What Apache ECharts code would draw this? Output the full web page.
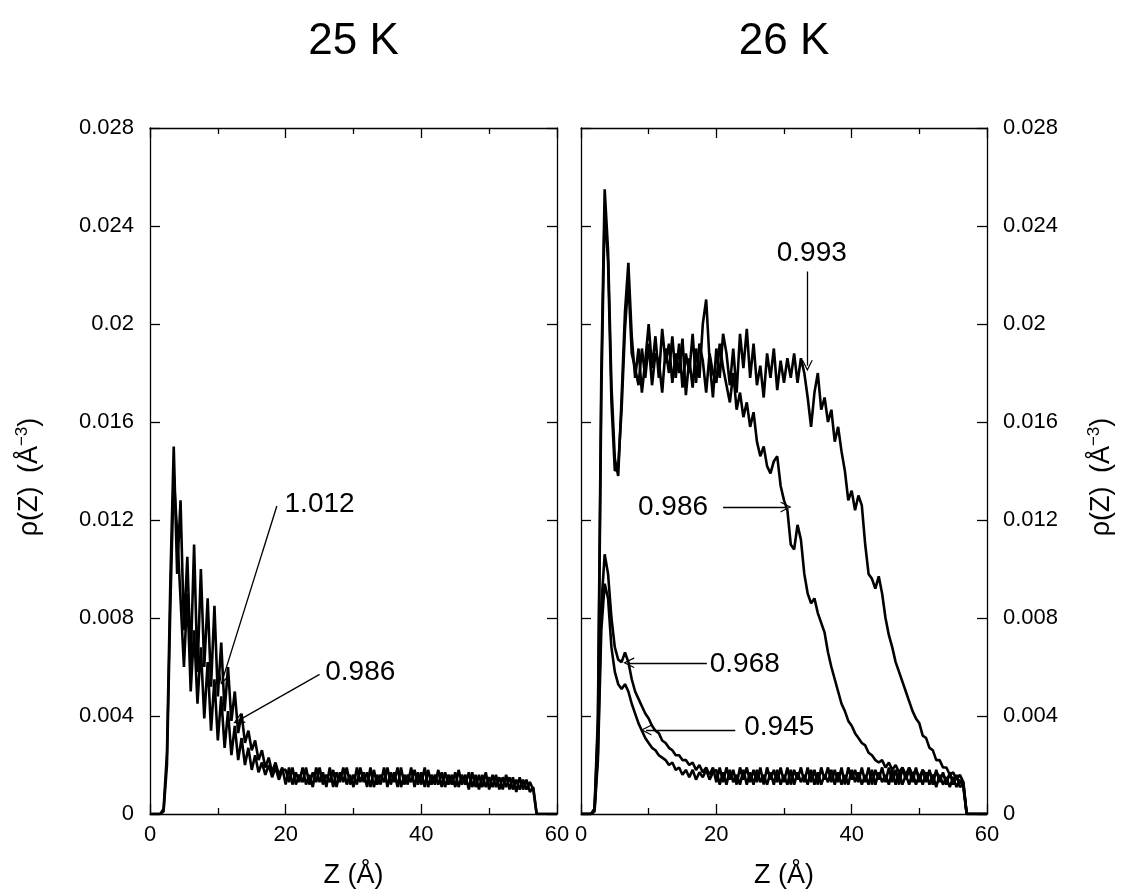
<!DOCTYPE html>
<html>
<head>
<meta charset="utf-8">
<script src="https://cdn.jsdelivr.net/npm/echarts@6/dist/echarts.min.js"></script>
<style>html,body{margin:0;padding:0;background:#fff;}#c{width:1123px;height:894px;}</style>
</head>
<body>
<div id="c"></div>
<script>
// Z grid (Å)
const zValues = [
 0,0.5,1,1.5,2,2.5,3,3.5,4,4.5,
 5,5.5,6,6.5,7,7.5,8,8.5,9,9.5,
 10,10.5,11,11.5,12,12.5,13,13.5,14,14.5,
 15,15.5,16,16.5,17,17.5,18,18.5,19,19.5,
 20,20.5,21,21.5,22,22.5,23,23.5,24,24.5,
 25,25.5,26,26.5,27,27.5,28,28.5,29,29.5,
 30,30.5,31,31.5,32,32.5,33,33.5,34,34.5,
 35,35.5,36,36.5,37,37.5,38,38.5,39,39.5,
 40,40.5,41,41.5,42,42.5,43,43.5,44,44.5,
 45,45.5,46,46.5,47,47.5,48,48.5,49,49.5,
 50,50.5,51,51.5,52,52.5,53,53.5,54,54.5,
 55,55.5,56,56.5,57,57.5,58,58.5,59,59.5,
 60];

// 25 K panel
const rho25_1012 = [
 0,0,0,0,0.0002,0.0025,0.0095,0.0150,0.0098,0.0128,
 0.0075,0.0105,0.0062,0.0110,0.0058,0.0100,0.0060,0.0088,0.0052,0.0085,
 0.0048,0.0070,0.0042,0.0060,0.0038,0.0050,0.0033,0.0041,0.0029,0.0034,
 0.0026,0.0030,0.0022,0.0026,0.0019,0.0023,0.0017,0.0021,0.0016,0.0019,
 0.0012,0.0019,0.0012,0.0017,0.0013,0.0019,0.0012,0.0016,0.0011,0.0019,
 0.0013,0.0017,0.0011,0.0019,0.0011,0.0017,0.0013,0.0019,0.0012,0.0016,
 0.0011,0.0019,0.0013,0.0017,0.0011,0.0019,0.0011,0.0016,0.0012,0.0019,
 0.0011,0.0017,0.0013,0.0019,0.0011,0.0016,0.0012,0.0019,0.0011,0.0017,
 0.0012,0.0019,0.0011,0.0016,0.0012,0.0018,0.0011,0.0017,0.0012,0.0016,
 0.0011,0.0018,0.0012,0.0016,0.0010,0.0017,0.0011,0.0016,0.0011,0.0017,
 0.0010,0.0016,0.0011,0.0015,0.0010,0.0016,0.0010,0.0015,0.0009,0.0015,
 0.0010,0.0014,0.0009,0.0011,0,0,0,0,0,0,
 0];
const rho25_0986 = [
 0,0,0,0,0.0001,0.0020,0.0085,0.0138,0.0115,0.0088,
 0.0060,0.0090,0.0050,0.0075,0.0045,0.0068,0.0039,0.0062,0.0034,0.0055,
 0.0030,0.0048,0.0027,0.0042,0.0024,0.0036,0.0022,0.0031,0.0020,0.0027,
 0.0018,0.0024,0.0017,0.0021,0.0016,0.0020,0.0015,0.0019,0.0014,0.0018,
 0.0018,0.0013,0.0019,0.0012,0.0016,0.0013,0.0019,0.0012,0.0017,0.0013,
 0.0019,0.0012,0.0016,0.0013,0.0018,0.0011,0.0017,0.0013,0.0019,0.0012,
 0.0016,0.0012,0.0019,0.0013,0.0017,0.0011,0.0018,0.0012,0.0016,0.0013,
 0.0019,0.0012,0.0017,0.0011,0.0019,0.0012,0.0016,0.0013,0.0018,0.0012,
 0.0017,0.0011,0.0018,0.0012,0.0016,0.0012,0.0017,0.0011,0.0016,0.0012,
 0.0017,0.0011,0.0016,0.0012,0.0017,0.0011,0.0016,0.0010,0.0016,0.0011,
 0.0015,0.0011,0.0016,0.0010,0.0015,0.0011,0.0015,0.0010,0.0014,0.0010,
 0.0014,0.0010,0.0013,0.0010,0,0,0,0,0,0,
 0];

// 26 K panel
const rho26_0993 = [
 0,0,0,0,0.0002,0.0040,0.0180,0.0255,0.0230,0.0175,
 0.0145,0.0138,0.0170,0.0205,0.0225,0.0195,0.0178,0.0190,0.0172,0.0185,
 0.0200,0.0182,0.0195,0.0178,0.0198,0.0184,0.0192,0.0176,0.0188,0.0180,
 0.0194,0.0171,0.0186,0.0174,0.0190,0.0178,0.0200,0.0210,0.0185,0.0170,
 0.0190,0.0178,0.0196,0.0188,0.0175,0.0190,0.0172,0.0196,0.0182,0.0198,
 0.0178,0.0192,0.0175,0.0183,0.0170,0.0188,0.0178,0.0190,0.0173,0.0185,
 0.0176,0.0186,0.0178,0.0188,0.0176,0.0186,0.0180,0.0170,0.0158,0.0172,
 0.0180,0.0165,0.0170,0.0160,0.0165,0.0152,0.0158,0.0148,0.0140,0.0128,
 0.0132,0.0124,0.0130,0.0126,0.0110,0.0098,0.0096,0.0092,0.0097,0.0090,
 0.0080,0.0073,0.0068,0.0062,0.0058,0.0054,0.0050,0.0046,0.0042,0.0039,
 0.0037,0.0032,0.0031,0.0027,0.0026,0.0022,0.0022,0.0019,0.0019,0.0016,
 0.0017,0.0014,0.0016,0.0013,0,0,0,0,0,0,
 0];
const rho26_0986 = [
 0,0,0,0,0.0002,0.0035,0.0170,0.0248,0.0225,0.0168,
 0.0140,0.0142,0.0165,0.0198,0.0218,0.0188,0.0182,0.0175,0.0190,0.0178,
 0.0192,0.0175,0.0188,0.0185,0.0172,0.0190,0.0180,0.0195,0.0178,0.0192,
 0.0174,0.0188,0.0180,0.0196,0.0176,0.0192,0.0185,0.0172,0.0188,0.0180,
 0.0176,0.0192,0.0182,0.0175,0.0168,0.0180,0.0165,0.0172,0.0162,0.0168,
 0.0158,0.0164,0.0152,0.0146,0.0150,0.0142,0.0139,0.0144,0.0146,0.0134,
 0.0128,0.0124,0.0110,0.0108,0.0118,0.0112,0.0098,0.0090,0.0086,0.0088,
 0.0082,0.0078,0.0074,0.0066,0.0060,0.0055,0.0050,0.0045,0.0042,0.0038,
 0.0036,0.0033,0.0031,0.0029,0.0028,0.0025,0.0024,0.0022,0.0021,0.0022,
 0.0019,0.0021,0.0018,0.0020,0.0017,0.0019,0.0016,0.0019,0.0016,0.0018,
 0.0015,0.0018,0.0016,0.0017,0.0015,0.0017,0.0015,0.0016,0.0014,0.0016,
 0.0014,0.0015,0.0013,0.0013,0,0,0,0,0,0,
 0];
const rho26_0968 = [
 0,0,0,0,0.0002,0.0025,0.0085,0.0106,0.0098,0.0080,
 0.0068,0.0063,0.0062,0.0066,0.0062,0.0055,0.0050,0.0047,0.0044,0.0041,
 0.0039,0.0036,0.0034,0.0033,0.0030,0.0029,0.0027,0.0026,0.0024,0.0024,
 0.0022,0.0022,0.0020,0.0021,0.0018,0.0020,0.0017,0.0019,0.0016,0.0019,
 0.0013,0.0019,0.0013,0.0019,0.0014,0.0018,0.0012,0.0019,0.0014,0.0019,
 0.0013,0.0018,0.0013,0.0019,0.0012,0.0019,0.0014,0.0018,0.0013,0.0019,
 0.0013,0.0019,0.0012,0.0018,0.0014,0.0019,0.0013,0.0019,0.0013,0.0018,
 0.0012,0.0019,0.0014,0.0019,0.0013,0.0018,0.0013,0.0019,0.0012,0.0019,
 0.0014,0.0018,0.0013,0.0019,0.0013,0.0019,0.0012,0.0018,0.0014,0.0019,
 0.0013,0.0019,0.0013,0.0018,0.0012,0.0019,0.0014,0.0018,0.0013,0.0019,
 0.0013,0.0018,0.0013,0.0018,0.0012,0.0018,0.0013,0.0017,0.0012,0.0017,
 0.0012,0.0016,0.0011,0.0012,0,0,0,0,0,0,
 0];
const rho26_0945 = [
 0,0,0,0,0.0001,0.0022,0.0075,0.0094,0.0088,0.0068,
 0.0058,0.0053,0.0051,0.0053,0.0050,0.0045,0.0041,0.0037,0.0034,0.0031,
 0.0029,0.0027,0.0026,0.0024,0.0023,0.0022,0.0020,0.0021,0.0018,0.0019,
 0.0016,0.0018,0.0015,0.0018,0.0014,0.0017,0.0015,0.0018,0.0014,0.0017,
 0.0018,0.0012,0.0017,0.0012,0.0018,0.0013,0.0016,0.0012,0.0018,0.0012,
 0.0017,0.0012,0.0018,0.0013,0.0016,0.0012,0.0017,0.0012,0.0018,0.0012,
 0.0016,0.0012,0.0018,0.0012,0.0017,0.0013,0.0016,0.0012,0.0018,0.0012,
 0.0017,0.0012,0.0016,0.0013,0.0018,0.0012,0.0017,0.0012,0.0016,0.0012,
 0.0018,0.0013,0.0017,0.0012,0.0016,0.0012,0.0018,0.0012,0.0017,0.0013,
 0.0016,0.0012,0.0018,0.0012,0.0017,0.0012,0.0016,0.0012,0.0017,0.0012,
 0.0016,0.0012,0.0017,0.0012,0.0016,0.0011,0.0016,0.0012,0.0015,0.0011,
 0.0015,0.0011,0.0014,0.0011,0,0,0,0,0,0,
 0];

// axis ticks
const xTicks = { min: 0, max: 60, interval: 20 };
const yTicks = { min: 0, max: 0.028, interval: 0.004 };

// annotations: [label, labelZ, labelRho, lineStartZ, lineStartRho, lineEndZ, lineEndRho]
const notes25 = [
 ['1.012', 25.0, 0.01266, 18.7, 0.01257, 10.7, 0.00549],
 ['0.986', 31.0, 0.00578, 25.0, 0.00570, 13.0, 0.00381]
];
const notes26 = [
 ['0.993', 34.1, 0.02287, 33.45, 0.02214, 33.45, 0.01830],
 ['0.986', 13.6, 0.01253, 21.0, 0.01253, 30.3, 0.01253],
 ['0.968', 24.2, 0.00610, 18.6, 0.00617, 7.05, 0.00617],
 ['0.945', 29.3, 0.00353, 22.8, 0.00343, 9.6, 0.00343]
];

const FONT = "'Liberation Sans', Arial, sans-serif";
const chart = echarts.init(document.getElementById('c'), null, { renderer: 'canvas' });

function xAxis(grid, pos, labels) {
  return {
    type: 'value', gridIndex: grid, position: pos, ...xTicks,
    axisLine: { show: true, onZero: false, lineStyle: { color: '#000', width: 1.3 } },
    axisTick: { show: true, inside: true, length: 10, lineStyle: { color: '#000', width: 1.3 } },
    minorTick: { show: true, splitNumber: 2, length: 6, lineStyle: { color: '#000', width: 1.3 } },
    splitLine: { show: false },
    axisLabel: { show: labels, color: '#000', fontSize: 22, fontFamily: FONT, margin: 10 },
    name: labels ? 'Z (Å)' : '', nameLocation: 'middle', nameGap: 48,
    nameTextStyle: { color: '#000', fontSize: 27, fontFamily: FONT }
  };
}
function yAxis(grid, pos, labels) {
  return {
    type: 'value', gridIndex: grid, position: pos, ...yTicks,
    axisLine: { show: true, onZero: false, lineStyle: { color: '#000', width: 1.3 } },
    axisTick: { show: true, inside: true, length: 10, lineStyle: { color: '#000', width: 1.3 } },
    splitLine: { show: false },
    axisLabel: { show: labels, color: '#000', fontSize: 22, fontFamily: FONT, margin: 16,
      formatter: v => v === 0 ? '0' : String(+v.toFixed(3)) }
  };
}

function curve(arr, xi, yi) {
  return { type: 'line', xAxisIndex: xi, yAxisIndex: yi, showSymbol: false, symbol: 'none',
    data: zValues.map((z, i) => [z, arr[i]]),
    lineStyle: { color: '#000', width: 2.6 }, animation: false, z: 3 };
}
const chevron = 'path://M5,0 L10,10 L8.8,10 L5,2.4 L1.2,10 L0,10 Z';
function noteLines(notes, xi, yi) {
  return { type: 'lines', coordinateSystem: 'cartesian2d', xAxisIndex: xi, yAxisIndex: yi,
    symbol: ['none', chevron], symbolSize: [11, 11],
    lineStyle: { color: '#000', width: 1.3, opacity: 1 }, animation: false, z: 5,
    data: notes.map(n => ({ coords: [[n[3], n[4]], [n[5], n[6]]] })) };
}
function noteText(notes, xi, yi) {
  return { type: 'scatter', xAxisIndex: xi, yAxisIndex: yi, symbolSize: 0, animation: false, z: 6,
    itemStyle: { color: '#000', opacity: 0 },
    data: notes.map(n => ({ value: [n[1], n[2]], name: n[0] })),
    label: { show: true, position: 'inside', formatter: p => p.name, color: '#000', opacity: 1,
      textBorderWidth: 0, fontSize: 28, fontFamily: FONT } };
}

const yName = (x) => ({
  type: 'text', x: x, y: 477, rotation: Math.PI / 2,
  style: { text: '{a|ρ(Z)}    {a|(Å}{s|−3}{a|)}', align: 'center', verticalAlign: 'middle',
    fill: '#000',
    rich: { a: { fontSize: 27, fontFamily: FONT, lineHeight: 32, fill: '#000' },
            s: { fontSize: 17, fontFamily: FONT, lineHeight: 17, verticalAlign: 'top', fill: '#000' } } }
});

chart.setOption({
  backgroundColor: '#fff',
  animation: false,
  grid: [
    { left: 150, top: 128, width: 407, height: 693 },
    { left: 581, top: 128, width: 406, height: 693 }
  ],
  xAxis: [xAxis(0, 'bottom', true), xAxis(0, 'top', false), xAxis(1, 'bottom', true), xAxis(1, 'top', false)],
  yAxis: [yAxis(0, 'left', true), yAxis(0, 'right', false), yAxis(1, 'left', false), yAxis(1, 'right', true)],
  graphic: [
    { type: 'text', x: 353.5, y: 42, style: { text: '25 K', align: 'center', verticalAlign: 'middle', fill: '#000', fontSize: 44, fontFamily: FONT } },
    { type: 'text', x: 784, y: 42, style: { text: '26 K', align: 'center', verticalAlign: 'middle', fill: '#000', fontSize: 44, fontFamily: FONT } },
    yName(30), yName(1102)
  ],
  series: [
    curve(rho25_1012, 0, 0), curve(rho25_0986, 0, 0),
    curve(rho26_0993, 2, 3), curve(rho26_0986, 2, 3), curve(rho26_0968, 2, 3), curve(rho26_0945, 2, 3),
    noteLines(notes25, 0, 0), noteText(notes25, 0, 0),
    noteLines(notes26, 2, 3), noteText(notes26, 2, 3)
  ]
});
</script>
</body>
</html>
